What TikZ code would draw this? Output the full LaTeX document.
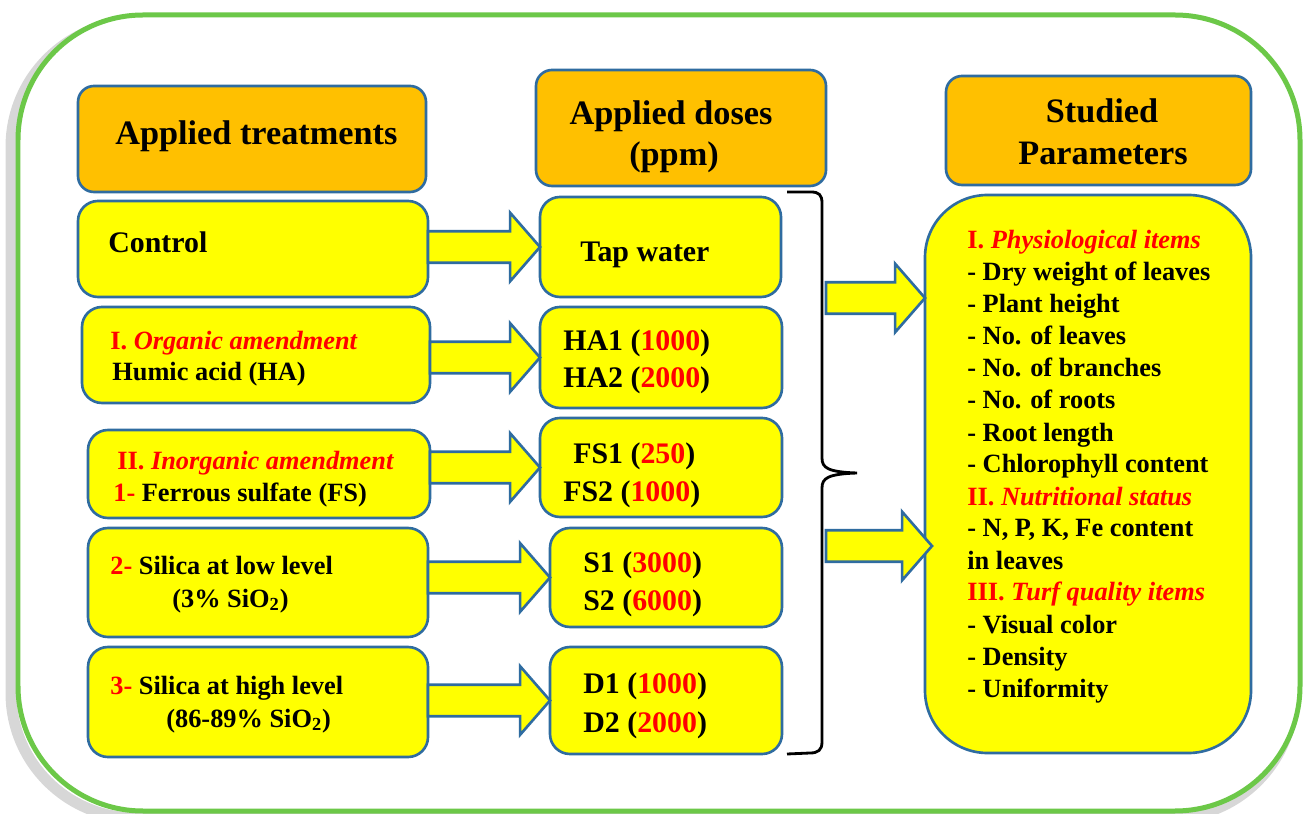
\documentclass[tikz,border=0pt]{standalone}
\usepackage{fontspec}
\setmainfont{Liberation Serif}
\usetikzlibrary{calc}
\definecolor{bbord}{RGB}{47,108,160}
\definecolor{hdr}{RGB}{255,192,0}
\definecolor{ybox}{RGB}{255,255,0}
\definecolor{frm}{RGB}{108,200,72}
\definecolor{rtx}{RGB}{255,0,0}
\newcommand\rn[1]{\textcolor{rtx}{#1}}
\newcommand\pbox[6]{\node[#2, minimum width={(#5-#3)*0.02cm}, minimum height={(#6-#4)*0.02cm}] (#1) at ({(#3+#5)/2},{(#4+#6)/2}) {};}
\newcommand\barr[2]{\draw[blockarr] let \p1=#1, \p2=#2 in
  (\x1,\y2+9pt) -- (\x2-17pt,\y2+9pt) -- (\x2-17pt,\y2+19.5pt) -- (\x2,\y2) --
  (\x2-17pt,\y2-19.5pt) -- (\x2-17pt,\y2-9pt) -- (\x1,\y2-9pt) -- cycle;}
\tikzset{
  ybx/.style={draw=bbord, line width=1.5pt, fill=ybox, rounded corners=0.4cm, inner sep=0pt, outer sep=0pt},
  hbx/.style={ybx, fill=hdr, rounded corners=0.32cm},
  blockarr/.style={draw=bbord, line width=1.5pt, fill=ybox, line join=miter},
  brc/.style={draw=black, line width=1.6pt},
  htx/.style={inner sep=0pt, font=\bfseries\fontsize{19.5pt}{23pt}\selectfont},
  mtx/.style={inner sep=0pt, anchor=base west, font=\bfseries\fontsize{17pt}{20pt}\selectfont},
  stx/.style={inner sep=0pt, anchor=base west, font=\bfseries\fontsize{15pt}{18pt}\selectfont},
}
\begin{document}
\begin{tikzpicture}[x=0.02cm, y=-0.02cm]
\useasboundingbox (0,0) rectangle (1303,814);
% frame with shadow
\draw[black!45, opacity=0.35, line width=0.22cm, rounded corners=2.5cm] (11,22) rectangle (1294,818);
\draw[frm, line width=0.1cm, fill=white, rounded corners=2.5cm] (18,15) rectangle (1300,811);
% headers
\pbox{H1}{hbx}{78}{86}{426}{192}
\pbox{H2}{hbx}{536}{70}{826}{186}
\pbox{H3}{hbx}{946}{76}{1251}{185}
\node[htx, anchor=base west] (h1t) at (115,145) {Applied treatments};
\node[htx, anchor=base] (h2t) at (671,125) {Applied doses};
\node[htx, anchor=base] (h2u) at (674,166) {(ppm)};
\node[htx, anchor=base] (h3t) at (1102,123) {Studied};
\node[htx, anchor=base] (h3u) at (1103,165) {Parameters};
% left boxes
\pbox{L1}{ybx}{78}{201}{428}{297}
\pbox{L2}{ybx}{82}{307}{430}{403}
\pbox{L3}{ybx}{88}{430}{430}{518}
\pbox{L4}{ybx}{88}{528}{428}{637}
\pbox{L5}{ybx}{88}{647}{428}{757}
% middle boxes
\pbox{M1}{ybx}{540}{197}{781}{297}
\pbox{M2}{ybx}{540}{307}{782}{408}
\pbox{M3}{ybx}{540}{418}{782}{517}
\pbox{M4}{ybx}{550}{528}{782}{627}
\pbox{M5}{ybx}{550}{647}{782}{754}
% right box
\node[ybx, rounded corners=1.25cm, minimum width={(1251-925)*0.02cm}, minimum height={(753-195)*0.02cm}] (R) at ({(925+1251)/2},{(195+753)/2}) {};
% arrows left -> middle
\barr{(L1.east)}{(M1.west)}
\barr{(L2.east)}{(M2.west)}
\barr{(L3.east)}{(M3.west)}
\barr{(L4.east)}{(M4.west)}
\barr{(L5.east)}{(M5.west)}
% brace
\draw[brc] (787,192) -- (811,192) .. controls (819,192) and (822,195) .. (822,203) -- (822,458)
  .. controls (822,468) and (828,472) .. (857,473)
  .. controls (828,474) and (822,478) .. (822,488) -- (822,742)
  .. controls (822,750) and (818,753) .. (810,753) -- (787,754);
% arrows to right box
\coordinate (ra1s) at (826,298);
\coordinate (ra2s) at (826,546);
\coordinate (ra1t) at (R.west |- ra1s);
\coordinate (ra2t) at ($(R.west |- ra2s)+(7,0)$);
\barr{(ra1s)}{(ra1t)}
\barr{(ra2s)}{(ra2t)}
% left texts
\node[mtx] (l1a) at (108,253) {Control};
\node[stx] (l2a) at (110,350) {\textcolor{rtx}{I. \textit{Organic amendment}}};
\node[stx] (l2b) at (112,381) {Humic acid (HA)};
\node[stx] (l3a) at (117,470) {\textcolor{rtx}{II. \textit{Inorganic amendment}}};
\node[stx] (l3b) at (113,501) {\rn{1-} Ferrous sulfate (FS)};
\node[stx] (l4a) at (110,575) {\rn{2-} Silica at low level};
\node[stx] (l4b) at (172,607) {(3\% SiO\textsubscript{2})};
\node[stx] (l5a) at (110,694) {\rn{3-} Silica at high level};
\node[stx] (l5b) at (166,727) {(86-89\% SiO\textsubscript{2})};
% middle texts
\node[mtx] (m1a) at (580,262) {Tap water};
\node[mtx] (m2a) at (563,351) {HA1 (\rn{1000})};
\node[mtx] (m2b) at (563,388) {HA2 (\rn{2000})};
\node[mtx] (m3a) at (573,463) {FS1 (\rn{250})};
\node[mtx] (m3b) at (563,501) {FS2 (\rn{1000})};
\node[mtx] (m4a) at (583,572) {S1 (\rn{3000})};
\node[mtx] (m4b) at (583,610) {S2 (\rn{6000})};
\node[mtx] (m5a) at (583,693) {D1 (\rn{1000})};
\node[mtx] (m5b) at (583,732) {D2 (\rn{2000})};
% right texts
\node[stx] (r1) at (967,249) {\textcolor{rtx}{I. \textit{Physiological items}}};
\node[stx] (r2) at (967,281) {- Dry weight of leaves};
\node[stx] (r3) at (967,313) {- Plant height};
\node[stx] (r4) at (967,345) {- No. of leaves};
\node[stx] (r5) at (967,377) {- No. of branches};
\node[stx] (r6) at (967,409) {- No. of roots};
\node[stx] (r7) at (967,441) {- Root length};
\node[stx] (r8) at (967,473) {- Chlorophyll content};
\node[stx] (r9) at (967,505) {\textcolor{rtx}{II. \textit{Nutritional status}}};
\node[stx] (r10) at (967,537) {- N, P, K, Fe content};
\node[stx] (r11) at (967,569) {in leaves};
\node[stx] (r12) at (967,601) {\textcolor{rtx}{III. \textit{Turf quality items}}};
\node[stx] (r13) at (967,633) {- Visual color};
\node[stx] (r14) at (967,665) {- Density};
\node[stx] (r15) at (967,697) {- Uniformity};
\end{tikzpicture}
\end{document}
